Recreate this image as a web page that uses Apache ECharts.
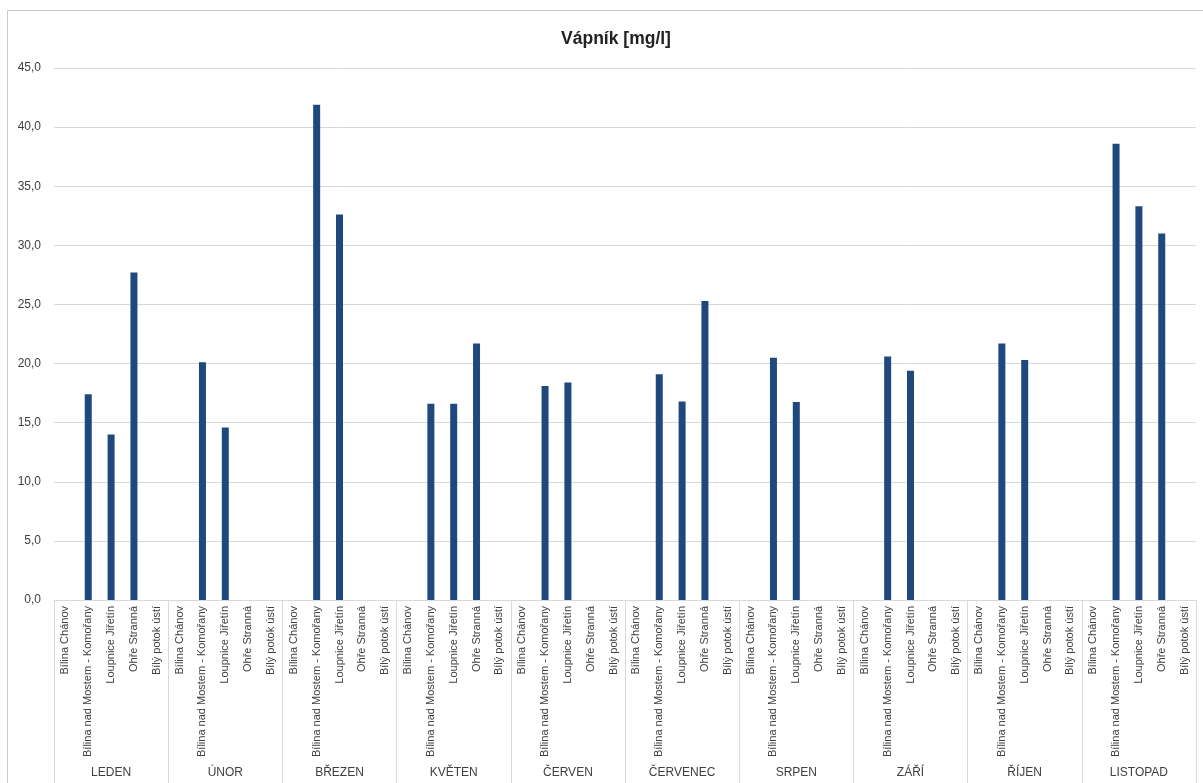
<!DOCTYPE html>
<html>
<head>
<meta charset="utf-8">
<script src="https://cdn.jsdelivr.net/npm/echarts@6/dist/echarts.min.js"></script>
<style>
html,body{margin:0;padding:0;background:#fff;}
#chart{width:1203px;height:783px;}
</style>
</head>
<body>
<div id="chart"></div>
<script>
const months = ["LEDEN","ÚNOR","BŘEZEN","KVĚTEN","ČERVEN","ČERVENEC","SRPEN","ZÁŘÍ","ŘÍJEN","LISTOPAD"];
const stations = ["Bílina Chánov","Bílina nad Mostem - Komořany","Loupnice Jiřetín","Ohře Stranná","Bílý potok ústí"];
const bilinaChanov   = [null,null,null,null,null,null,null,null,null,null];
const bilinaKomorany = [17.4,20.1,41.9,16.6,18.1,19.1,20.5,20.6,21.7,38.6];
const loupniceJiretin= [14.0,14.6,32.6,16.6,18.4,16.8,16.75,19.4,20.3,33.3];
const ohreStranna    = [27.7,null,null,21.7,null,25.3,null,null,null,31.0];
const bilyPotokUsti  = [null,null,null,null,null,null,null,null,null,null];
const yTicks = [0,5,10,15,20,25,30,35,40,45];

const seriesByStation = [bilinaChanov,bilinaKomorany,loupniceJiretin,ohreStranna,bilyPotokUsti];
const cats = [], vals = [];
months.forEach((m,i)=>{
  stations.forEach((s,j)=>{
    cats.push(s);
    vals.push(seriesByStation[j][i]);
  });
});

const chart = echarts.init(document.getElementById('chart'));
const font = '"Liberation Sans Narrow","Liberation Sans",Arial,sans-serif';
chart.setOption({
  animation:false,
  backgroundColor:'#fff',
  graphic:[{type:'rect',shape:{x:7.5,y:10.5,width:1200,height:800},style:{fill:'none',stroke:'#c8c8c8',lineWidth:1},silent:true}],
  title:{text:'Vápník [mg/l]',left:611,textAlign:'center',top:25,
    textStyle:{fontFamily:'"Liberation Sans",Arial,sans-serif',fontSize:17.5,fontWeight:'bold',color:'#222'}},
  grid:{left:54,right:7,top:68,bottom:183,containLabel:false},
  xAxis:[
    {type:'category',data:cats,gridIndex:0,position:'bottom',
     axisLine:{show:true,lineStyle:{color:'#d9d9d9'}},
     axisTick:{show:false},
     axisLabel:{interval:0,rotate:90,margin:6,fontSize:11,color:'#404040',fontFamily:font}},
    {type:'category',data:months,gridIndex:0,position:'bottom',offset:0,
     axisLine:{show:false},
     axisTick:{show:true,length:183,interval:0,lineStyle:{color:'#d9d9d9'}},
     axisLabel:{interval:0,margin:167,fontSize:12,color:'#404040',fontFamily:font}}
  ],
  yAxis:{type:'value',min:yTicks[0],max:yTicks[yTicks.length-1],interval:5,
    axisLine:{show:false},axisTick:{show:false},
    splitLine:{lineStyle:{color:'#d9d9d9'}},
    axisLabel:{margin:13,fontSize:12,color:'#404040',fontFamily:font,
      formatter:v=>v.toFixed(1).replace('.',',')}},
  series:[{type:'bar',xAxisIndex:0,data:vals,barWidth:7,
    itemStyle:{color:'#1f497d'}}]
});
</script>
</body>
</html>
